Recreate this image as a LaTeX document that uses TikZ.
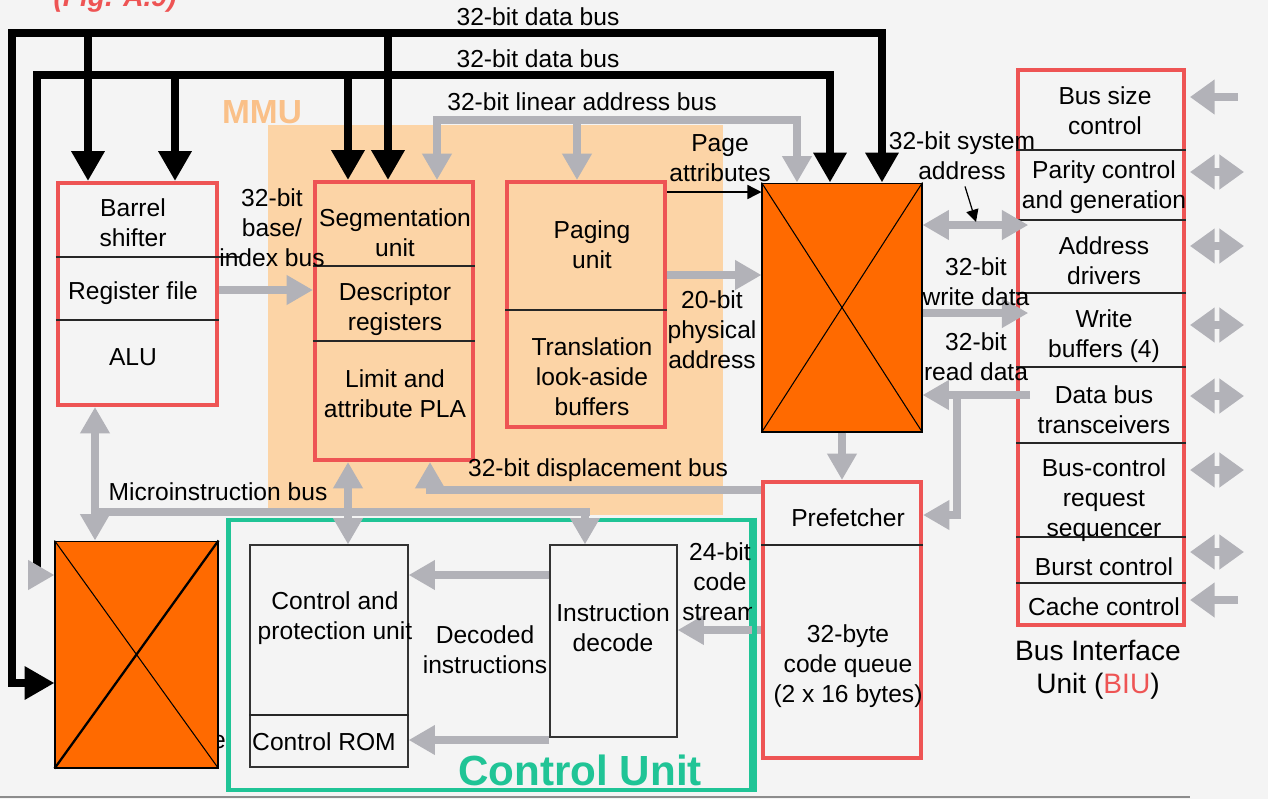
\documentclass[tikz,border=0pt]{standalone}
\usepackage{fontspec}
\setmainfont{Liberation Sans}
\usetikzlibrary{arrows.meta}

\definecolor{bgcol}{RGB}{244,244,244}
\definecolor{mmucol}{RGB}{252,212,166}
\definecolor{mmutext}{RGB}{250,192,136}
\definecolor{boxred}{RGB}{238,84,84}
\definecolor{xorange}{RGB}{255,106,0}
\definecolor{busgrey}{RGB}{178,178,184}
\definecolor{cugreen}{RGB}{32,196,150}

\tikzset{
  redbox/.style={draw=boxred, line width=2.3pt, inner sep=0pt},
  plainbox/.style={draw=black!80, line width=0.7pt, inner sep=0pt},
  xbox/.style={draw=black, fill=xorange, line width=0.6pt, inner sep=0pt},
  divider/.style={draw=black!85, line width=0.7pt},
  databus/.style={line width=4.5pt, >={Triangle[width=18pt,length=17pt]}},
  greybus/.style={draw=busgrey, line width=4.5pt, >={Triangle[width=16pt,length=15pt]}},
  pinbus/.style={draw=busgrey, line width=4.5pt, >={Triangle[width=19pt,length=14pt]}},
  lbl/.style={align=center, inner sep=1pt}
}

\begin{document}
\begin{tikzpicture}[x=0.02cm, y=-0.02cm, font=\fontsize{14}{17}\selectfont, line width=0.8pt]

  % Canvas
  \fill[bgcol] (0,0) rectangle (1268,799);
  \useasboundingbox (0,0) rectangle (1268,799);

  % MMU area
  \node[fill=mmucol, minimum width=9.1cm, minimum height=7.8cm, inner sep=0pt] (mmu) at (495.5,320) {};
  \node[font=\fontsize{19}{22}\selectfont\bfseries, text=mmutext] (mmulbl) at (262,112) {MMU};
  \node[font=\fontsize{16}{19}\selectfont\bfseries\itshape, text=boxred] (figtag) at (115,-1) {(Fig. A.9)};

  % Units
  \node[redbox, minimum width=3.18cm, minimum height=4.44cm] (barrel) at (137.5,294) {};
  \node[redbox, minimum width=3.16cm, minimum height=5.56cm] (seg) at (394,321) {};
  \node[redbox, minimum width=3.16cm, minimum height=4.9cm] (paging) at (586,304.5) {};
  \node[xbox, minimum width=3.2cm, minimum height=4.98cm] (xbarA) at (842,307.5) {};
  \node[redbox, minimum width=3.16cm, minimum height=5.52cm] (prefetch) at (842,620) {};
  \node[redbox, minimum width=3.32cm, minimum height=11.1cm] (biu) at (1101,347.5) {};
  \node[plainbox, minimum width=3.16cm, minimum height=4.44cm] (cpu) at (329,656) {};
  \node[plainbox, minimum width=2.54cm, minimum height=3.84cm] (idec) at (613.5,641) {};
  \node[draw=cugreen, line width=2.8pt, minimum width=10.48cm, minimum height=5.4cm] (cu) at (490,655) {};

  % fragment peeking out from behind the lower crossbar
  \node (frag) at (219,742) {e};
  \node[xbox, minimum width=3.26cm, minimum height=4.54cm] (xbarB) at (136.5,654.5) {};

  % Crossbars
  \draw[line width=0.6pt] (xbarA.north west) -- (xbarA.south east) (xbarA.north east) -- (xbarA.south west);
  \draw[line width=0.6pt] (xbarB.north west) -- (xbarB.south east);
  \draw[line width=1.3pt] (xbarB.north east) -- (xbarB.south west);

  % Dividers
  \draw[divider] (barrel.west |- 0,257) -- (240,257);
  \draw[divider] (barrel.west |- 0,320) -- (barrel.east |- 0,320);
  \foreach \yy in {266,341} \draw[divider] (seg.west |- 0,\yy) -- (seg.east |- 0,\yy);
  \draw[divider] (paging.west |- 0,310) -- (paging.east |- 0,310);
  \draw[divider] (prefetch.west |- 0,545) -- (prefetch.east |- 0,545);
  \draw[divider] (cpu.west |- 0,715) -- (cpu.east |- 0,715);
  \foreach \yy in {150,220,293,367,443,537,583}
    \draw[divider] (biu.west |- 0,\yy) -- (biu.east |- 0,\yy);

  % 32-bit data buses
  \coordinate (busA1) at (882,33);
  \coordinate (busA2) at (12,33);
  \coordinate (busA3) at (12,683);
  \draw[databus, <->] (busA1 |- xbarA.north) -- (busA1) -- (busA2) -- (busA3) -- (busA3 -| xbarB.west);
  \draw[databus, ->] (88,33) -- (88,33 |- barrel.north);
  \draw[databus, ->] (388,33) -- (388,33 |- seg.north);
  \coordinate (busB0) at (37,575);
  \coordinate (busB1) at (37,75);
  \coordinate (busB2) at (830,75);
  \draw[databus, ->] (busB0) -- (busB1) -- (busB2) -- (busB2 |- xbarA.north);
  \draw[databus, ->] (175,75) -- (175,75 |- barrel.north);
  \draw[databus, ->] (348,75) -- (348,75 |- seg.north);
  \draw[greybus, ->] (busB0) -- (busB0 -| xbarB.west);

  % 32-bit linear address bus
  \coordinate (linA) at (437,120);
  \coordinate (linB) at (797,120);
  \draw[greybus, <->] (linA |- seg.north) -- (linA) -- (linB) -- (linB |- xbarA.north);
  \draw[greybus, ->] (577,120) -- (577,120 |- paging.north);

  % MMU internal paths
  \draw[greybus, ->] (barrel.east |- 0,290) -- (seg.west |- 0,290);
  \draw[-{Triangle[width=8pt,length=8pt]}, line width=0.8pt] (paging.east |- 0,192) -- (xbarA.west |- 0,192);
  \draw[greybus, ->] (paging.east |- 0,275) -- (xbarA.west |- 0,275);

  % BIU side
  \draw[greybus, <->, shorten >=-7pt] (xbarA.east |- 0,225) -- (biu.west |- 0,225);
  \draw[greybus, ->, shorten >=-7pt] (xbarA.east |- 0,313) -- (biu.west |- 0,313);
  \draw[greybus, ->, shorten <=-8pt] (biu.west |- 0,395) -- (xbarA.east |- 0,395);
  \coordinate (rdtap) at (957,395);
  \draw[greybus, ->] (rdtap) -- (rdtap |- 0,515) -- (prefetch.east |- 0,515);
  \draw[greybus, ->] (xbarA.south) -- (prefetch.north);

  % 32-bit displacement bus
  \coordinate (dispC) at (430,490);
  \draw[greybus, ->] (prefetch.west |- dispC) -- (dispC) -- (dispC |- seg.south);

  % Microinstruction bus
  \coordinate (muL) at (95,512);
  \coordinate (muR) at (590,512);
  \draw[greybus] (muL) -- (muR);
  \draw[greybus, <->] (muL |- barrel.south) -- (muL |- xbarB.north);
  \draw[greybus, <->] (348,512 |- seg.south) -- (348,512 |- cpu.north);
  \draw[greybus, ->] (585,512) -- (585,512 |- idec.north);

  % Control unit paths
  \draw[greybus, ->] (idec.west |- 0,575) -- (cpu.east |- 0,575);
  \draw[greybus, ->] (idec.west |- 0,740) -- (cpu.east |- 0,740);
  \draw[greybus, ->] (prefetch.west |- 0,630) -- (idec.east |- 0,630);

  % External BIU pins
  \foreach \yy in {172,246,325,396,470,552}
    \draw[pinbus, <->] (biu.east |- 0,\yy) ++(4,0) -- ++(54,0);
  \draw[pinbus, <-] (biu.east |- 0,97) ++(4,0) -- ++(48,0);
  \draw[pinbus, <-] (biu.east |- 0,600) ++(4,0) -- ++(48,0);

  % Labels
  \node[lbl] (lbusA) at (538,17) {32-bit data bus};
  \node[lbl] (lbusB) at (538,59) {32-bit data bus};
  \node[lbl] (llin) at (582,102) {32-bit linear address bus};
  \node[lbl] (lbarrel) at (133,223) {Barrel\\shifter};
  \node[lbl] (lregs) at (133,293) {Register file};
  \node[lbl] (lalu) at (133,357) {ALU};
  \node[lbl] (lbase) at (272,228) {32-bit\\base/\\index bus};
  \node[lbl] (lseg) at (395,233) {Segmentation\\unit};
  \node[lbl] (ldesc) at (395,309) {Descriptor\\registers};
  \node[lbl] (lpla) at (395,394) {Limit and\\attribute PLA};
  \node[lbl] (lpage) at (592,245) {Paging\\unit};
  \node[lbl] (ltlb) at (592,377) {Translation\\look-aside\\buffers};
  \node[lbl] (lattr) at (720,158) {Page\\attributes};
  \node[lbl] (lphys) at (712,330) {20-bit\\physical\\address};
  \node[lbl] (sysaddr) at (962,156) {32-bit system\\address};
  \coordinate (sysptr) at (976,222);
  \draw[-{Triangle[width=7pt,length=7pt]}, line width=0.7pt] (sysaddr.south) ++(3,4) -- (sysptr);
  \node[lbl] (lwr) at (976,282) {32-bit\\write data};
  \node[lbl] (lrd) at (976,357) {32-bit\\read data};
  \node[lbl] (ldisp) at (598,470) {32-bit displacement bus};
  \node[lbl] (lmicro) at (218,492) {Microinstruction bus};
  \node[lbl] (lcpu) at (335,618) {Control and\\protection unit};
  \node[lbl] (lrom) at (324,742) {Control ROM};
  \node[lbl] (ldec) at (485,650) {Decoded\\instructions};
  \node[lbl] (lidec) at (613,628) {Instruction\\decode};
  \node[lbl] (lpre) at (848,518) {Prefetcher};
  \node[lbl] (lqueue) at (848,666) {32-byte\\code queue\\(2 x 16 bytes)};
  \node[lbl] (lbsize) at (1105,111) {Bus size\\control};
  \node[lbl] (lpar) at (1104,187) {Parity control\\and generation};
  \node[lbl] (laddr) at (1104,261) {Address\\drivers};
  \node[lbl] (lwbuf) at (1104,336) {Write\\buffers (4)};
  \node[lbl] (ldbus) at (1104,410) {Data bus\\transceivers};
  \node[lbl] (lbctl) at (1104,500) {Bus-control\\request\\sequencer};
  \node[lbl] (lburst) at (1104,567) {Burst control};
  \node[lbl] (lcache) at (1104,607) {Cache control};
  \node[lbl, font=\fontsize{16}{19}\selectfont] (lbiu) at (1098,670) {Bus Interface\\Unit (\textcolor{boxred}{BIU})};

  % code stream label sits under the control unit frame
  \node[lbl] (lstream) at (720,582) {24-bit\\code\\stream};
  \draw[draw=cugreen, line width=2.8pt] (cu.north east) -- (cu.south east);
  \node[font=\fontsize{24}{28}\selectfont\bfseries, text=cugreen] (lcu) at (580,770) {Control Unit};

  % bottom rule
  \draw[black!45, line width=0.8pt] (0,797) -- (1190,797);

\end{tikzpicture}
\end{document}
